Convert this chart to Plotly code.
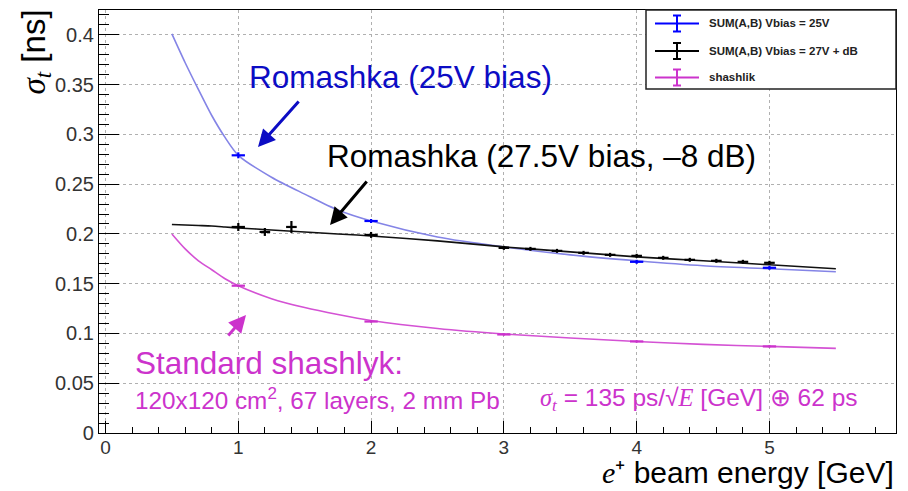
import plotly.graph_objects as go

# ---------------- data ----------------
E_blue = [1, 2, 4, 5]
sig_blue = [0.279, 0.213, 0.172, 0.166]
ex_blue = [0.05, 0.05, 0.05, 0.05]
ey_blue = [0.003, 0.002, 0.002, 0.002]

E_black = [1, 1.2, 1.4, 2, 3, 3.2, 3.4, 3.6, 3.8, 4, 4.2, 4.4, 4.6, 4.8, 5]
sig_black = [0.207, 0.202, 0.207, 0.199, 0.186, 0.185, 0.183, 0.181, 0.179,
             0.178, 0.176, 0.174, 0.173, 0.172, 0.171]
ex_black = [0.05, 0.04, 0.04, 0.05, 0.04, 0.04, 0.04, 0.04, 0.04,
            0.04, 0.04, 0.04, 0.04, 0.04, 0.04]
ey_black = [0.004, 0.004, 0.006, 0.003, 0.002, 0.002, 0.002, 0.002, 0.002,
            0.002, 0.002, 0.002, 0.002, 0.002, 0.002]

E_shash = [1, 2, 3, 4, 5]
sig_shash = [0.148, 0.112, 0.099, 0.092, 0.087]
ex_shash = [0.05, 0.05, 0.05, 0.05, 0.05]
ey_shash = [0.001, 0.001, 0.001, 0.001, 0.001]

fit_E = [0.5, 0.6, 0.7, 0.8, 0.9, 1.0, 1.25, 1.5, 1.75, 2.0, 2.5, 3.0, 3.5, 4.0, 4.5, 5.0, 5.5]
fit_blue = [0.401, 0.372, 0.345, 0.319, 0.297, 0.279, 0.257, 0.240, 0.224, 0.213,
            0.197, 0.187, 0.179, 0.173, 0.168, 0.165, 0.162]
fit_black = [0.2095, 0.209, 0.2085, 0.208, 0.207, 0.206, 0.204, 0.202, 0.200, 0.198,
             0.193, 0.187, 0.182, 0.177, 0.173, 0.169, 0.165]
fit_shash = [0.200, 0.185, 0.173, 0.164, 0.155, 0.148, 0.135, 0.126, 0.119, 0.113,
             0.105, 0.0995, 0.0955, 0.092, 0.089, 0.087, 0.085]

x_ticks = [0, 1, 2, 3, 4, 5]
y_ticks = [0, 0.05, 0.1, 0.15, 0.2, 0.25, 0.3, 0.35, 0.4]

legend_labels = ["SUM(A,B) Vbias = 25V", "SUM(A,B) Vbias = 27V + dB", "shashlik"]

# ---------------- styling ----------------
W, H = 908, 491
ML, MR, MT, MB = 99, 12, 10, 58
BLUE = "#0000ff"
BLUE_FIT = "#8484e6"
BLUE_TXT = "#0c0cc4"
MAG = "#cc33cc"
MAG_FIT = "#d452d4"
FONT = "Liberation Sans, Arial, sans-serif"
SERIF = "font-family:'Liberation Serif'"


def px(x, y):
    """pixel position -> paper coordinates"""
    return (x - ML) / (W - ML - MR), (H - MB - y) / (H - MT - MB)


fig = go.Figure()

for xs, ys, col in [(fit_E, fit_blue, BLUE_FIT), (fit_E, fit_black, "#111111"),
                    (fit_E, fit_shash, MAG_FIT)]:
    fig.add_trace(go.Scatter(x=xs, y=ys, mode="lines",
                             line=dict(color=col, width=1.6, shape="spline", smoothing=0.8),
                             hoverinfo="skip", showlegend=False))

for xs, ys, exs, eys, col in [(E_shash, sig_shash, ex_shash, ey_shash, MAG),
                              (E_blue, sig_blue, ex_blue, ey_blue, BLUE),
                              (E_black, sig_black, ex_black, ey_black, "#000000")]:
    fig.add_trace(go.Scatter(
        x=xs, y=ys, mode="markers",
        marker=dict(size=2, color=col),
        error_x=dict(type="data", array=exs, color=col, thickness=2.2, width=0),
        error_y=dict(type="data", array=eys, color=col, thickness=2.2, width=0),
        showlegend=False))

axis_common = dict(
    showline=True, linecolor="#000", linewidth=1.2, mirror=True,
    ticks="inside", tickcolor="#000", tickwidth=1,
    showgrid=True, gridcolor="#b0b0b0", griddash="dot", gridwidth=1,
    zeroline=False,
)

fig.update_xaxes(range=[-0.049, 5.953], tickmode="array", tickvals=x_ticks,
                 ticktext=[str(t) for t in x_ticks], ticklen=12, ticklabelstandoff=-3,
                 tickfont=dict(family=FONT, size=19, color="#333333"),
                 minor=dict(dtick=0.2, ticklen=6, ticks="inside", tickcolor="#000",
                            showgrid=False),
                 **axis_common)
fig.update_yaxes(range=[0, 0.425], tickmode="array", tickvals=y_ticks,
                 ticktext=[f"{t:g}" for t in y_ticks], ticklen=20,
                 tickfont=dict(family=FONT, size=20, color="#333333"),
                 minor=dict(dtick=0.01, ticklen=10, ticks="inside", tickcolor="#000",
                            showgrid=False),
                 **axis_common)

ann = []


def text(x, y, s, size, color, xanchor="center", bold=False):
    xp, yp = px(x, y)
    ann.append(dict(x=xp, y=yp, xref="paper", yref="paper", text=s, showarrow=False,
                    xanchor=xanchor, yanchor="middle",
                    font=dict(family=FONT, size=size, color=color,
                              weight="bold" if bold else "normal")))


def arrow(hx, hy, tx, ty, color):
    xp, yp = px(hx, hy)
    ann.append(dict(x=xp, y=yp, xref="paper", yref="paper", text="", showarrow=True,
                    ax=tx - hx, ay=ty - hy, arrowhead=2, arrowsize=1.15,
                    arrowwidth=3, arrowcolor=color, standoff=0, startstandoff=0))


text(400, 77, "Romashka (25V bias)", 31.5, BLUE_TXT)
text(541, 156, "Romashka (27.5V bias, \u20138 dB)", 31.5, "#000000")
text(133, 363, "Standard shashlyk:", 31.5, MAG, xanchor="left")
text(133, 399, "120x120 cm<sup>2</sup>, 67 layers, 2 mm Pb", 24.3, MAG, xanchor="left")
text(538, 399,
     f"<span style=\"{SERIF}\"><i>\u03c3<sub>t</sub></i></span>"
     f" = 135 ps/\u221a<span style=\"{SERIF}\"><i>E</i></span>"
     " [GeV] \u2295 62 ps", 24.5, MAG, xanchor="left")

arrow(258, 147, 300, 100, BLUE_TXT)
arrow(330, 225, 368, 180, "#000000")
arrow(246, 315, 227, 337, MAG)

# axis titles
xp, yp = px(896, 491)
ann.append(dict(x=xp, y=yp, xref="paper", yref="paper", showarrow=False,
                xanchor="right", yanchor="bottom",
                text=f"<span style=\"{SERIF}\"><i>e</i></span>\u207a beam energy [GeV]",
                font=dict(family=FONT, size=30, color="#000")))
xp, yp = px(35, 8)
ann.append(dict(x=xp, y=yp, xref="paper", yref="paper", showarrow=False,
                xanchor="center", yanchor="top", textangle=-90,
                text=f"<span style=\"{SERIF}\"><i>\u03c3<sub>t</sub></i></span> [ns]",
                font=dict(family=FONT, size=33, color="#000")))

# legend box
shapes = []
x0, y0 = px(646, 10)
x1, y1 = px(896, 89)
shapes.append(dict(type="rect", xref="paper", yref="paper", x0=x0, y0=y0, x1=x1, y1=y1,
                   line=dict(color="#222", width=1.5), fillcolor="white", layer="above"))
for lab, col, ly in zip(legend_labels, [BLUE, "#000000", MAG], [23.5, 51, 77.5]):
    a, b = px(655, ly)
    c, _ = px(699, ly)
    shapes.append(dict(type="line", xref="paper", yref="paper", x0=a, y0=b, x1=c, y1=b,
                       line=dict(color=col, width=2), layer="above"))
    m, t = px(677, ly - 8)
    _, bt = px(677, ly + 8)
    shapes.append(dict(type="line", xref="paper", yref="paper", x0=m, y0=t, x1=m, y1=bt,
                       line=dict(color=col, width=2), layer="above"))
    for yy in (t, bt):
        l1, _ = px(673, 0)
        l2, _ = px(681, 0)
        shapes.append(dict(type="line", xref="paper", yref="paper", x0=l1, y0=yy, x1=l2, y1=yy,
                           line=dict(color=col, width=2), layer="above"))
    text(707, ly, lab, 11.5, "#222222", xanchor="left", bold=True)

fig.update_layout(
    width=W, height=H,
    margin=dict(l=ML, r=MR, t=MT, b=MB, pad=0),
    paper_bgcolor="white", plot_bgcolor="white",
    showlegend=False,
    annotations=ann, shapes=shapes,
    font=dict(family=FONT),
)

fig.write_html("out.html", config={"displayModeBar": False},
               post_script="document.body.style.margin='0';document.body.style.overflow='hidden';")
